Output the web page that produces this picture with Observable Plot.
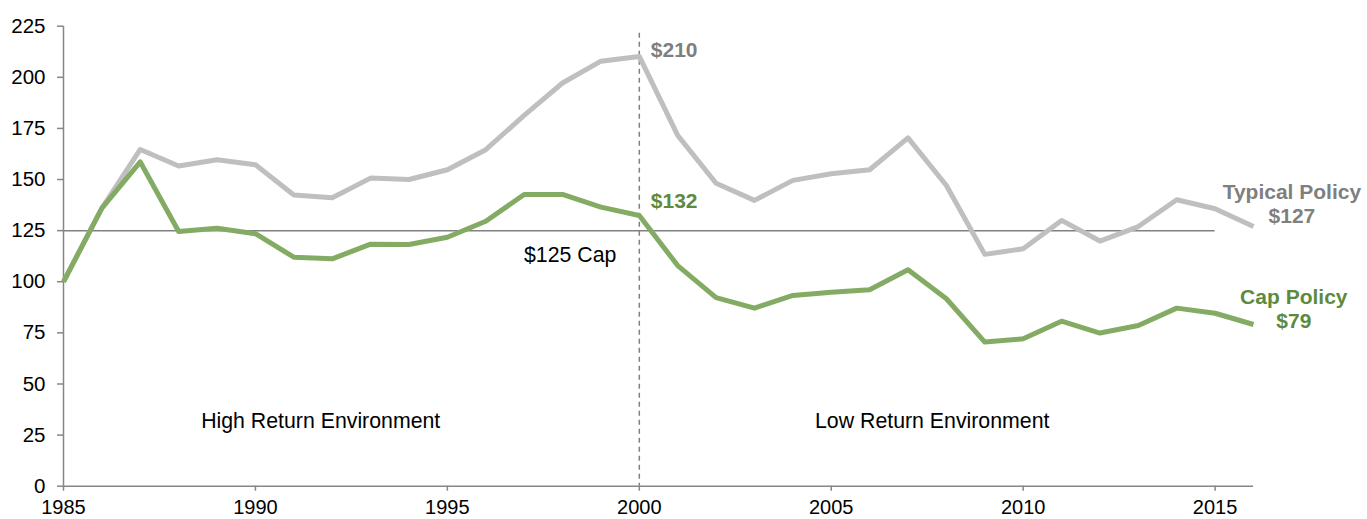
<!DOCTYPE html>
<html>
<head>
<meta charset="utf-8">
<script src="https://cdn.jsdelivr.net/npm/d3@7"></script>
<script src="https://cdn.jsdelivr.net/npm/@observablehq/plot@0.6"></script>
<style>
  html, body { margin: 0; padding: 0; background: #fff; }
  #chart svg { display: block; }
</style>
</head>
<body>
<div id="chart"></div>
<script>
const years = [1985,1986,1987,1988,1989,1990,1991,1992,1993,1994,1995,1996,1997,1998,1999,2000,2001,2002,2003,2004,2005,2006,2007,2008,2009,2010,2011,2012,2013,2014,2015,2016];
const typicalPolicy = [100,136,164.7,156.6,159.7,157.2,142.4,141.1,150.7,150,154.8,164.6,181.4,197.2,207.9,210.2,171.6,148.2,139.8,149.6,152.8,154.8,170.4,147.1,113.4,116.1,130,119.9,127,140.1,135.7,127];
const capPolicy = [100,136,158.6,124.6,126.2,123.5,112,111.2,118.4,118.2,121.8,129.6,142.7,142.7,136.5,132.4,107.9,92.2,87.1,93.3,94.9,96.1,105.9,91.7,70.5,72.1,80.7,74.9,78.6,87.1,84.6,79.1];
const yTicks = [0,25,50,75,100,125,150,175,200,225];
const xTicks = [1985,1990,1995,2000,2005,2010,2015];
const capLevel = 125;
const capYears = [1985, 2015];
const splitYear = 2000;

const typicalRows = years.map((y, i) => ({year: y, value: typicalPolicy[i]}));
const capRows = years.map((y, i) => ({year: y, value: capPolicy[i]}));

const plainLabels = [
  {x: 1998.2, y: 112.9, text: "$125 Cap"},
  {x: 1991.7, y: 31.7, text: "High Return Environment"},
  {x: 2007.63, y: 31.7, text: "Low Return Environment"}
];
const grayLabels = [
  {x: 2017.0, y: 143.7, text: "Typical Policy"},
  {x: 2017.0, y: 131.9, text: "$127"}
];
const greenLabels = [
  {x: 2017.05, y: 92.3, text: "Cap Policy"},
  {x: 2017.05, y: 80.6, text: "$79"}
];
const peakLabels = [
  {x: 2000.3, y: 213.2, text: "$210", fill: "#7f7f7f"},
  {x: 2000.3, y: 139.3, text: "$132", fill: "#5e8a3e"}
];

const chart = Plot.plot({
  width: 1367,
  height: 519,
  marginLeft: 63,
  marginRight: 114,
  marginTop: 25.7,
  marginBottom: 33.3,
  style: {fontFamily: "'Liberation Sans', Arial, sans-serif", fontSize: "20px", background: "#fff", color: "#000"},
  x: {domain: [1985, 2016]},
  y: {domain: [0, 225]},
  marks: [
    Plot.axisY({ticks: yTicks, tickSize: 6, tickPadding: 12, stroke: "#868686", fill: "#000", fontSize: 20.5, label: null, strokeWidth: 1.5}),
    Plot.axisX({ticks: xTicks, tickSize: 5, tickPadding: 9, stroke: "#868686", fill: "#000", fontSize: 20, label: null, tickFormat: "d", strokeWidth: 1.5}),
    Plot.ruleY([capLevel], {x1: capYears[0], x2: capYears[1], stroke: "#808080", strokeWidth: 1.5}),
    Plot.ruleX([splitYear], {y1: 221.5, y2: 0, stroke: "#808080", strokeWidth: 1.5, strokeDasharray: "5,4"}),
    Plot.ruleX([1985], {stroke: "#868686", strokeWidth: 1.5}),
    Plot.ruleY([0], {stroke: "#868686", strokeWidth: 1.5}),
    Plot.line(typicalRows, {x: "year", y: "value", stroke: "#bfbfbf", strokeWidth: 5, strokeLinejoin: "round", strokeLinecap: "butt"}),
    Plot.line(capRows, {x: "year", y: "value", stroke: "#84ab64", strokeWidth: 5, strokeLinejoin: "round", strokeLinecap: "butt"}),
    Plot.text(plainLabels, {x: "x", y: "y", text: "text", fill: "#000", fontSize: 21.3, textAnchor: "middle"}),
    Plot.text(peakLabels, {x: "x", y: "y", text: "text", fill: "fill", fontSize: 21, fontWeight: "bold", textAnchor: "start"}),
    Plot.text(grayLabels, {x: "x", y: "y", text: "text", fill: "#7f7f7f", fontSize: 21, fontWeight: "bold", textAnchor: "middle"}),
    Plot.text(greenLabels, {x: "x", y: "y", text: "text", fill: "#5e8a3e", fontSize: 21, fontWeight: "bold", textAnchor: "middle"})
  ]
});
document.getElementById("chart").appendChild(chart);
</script>
</body>
</html>
